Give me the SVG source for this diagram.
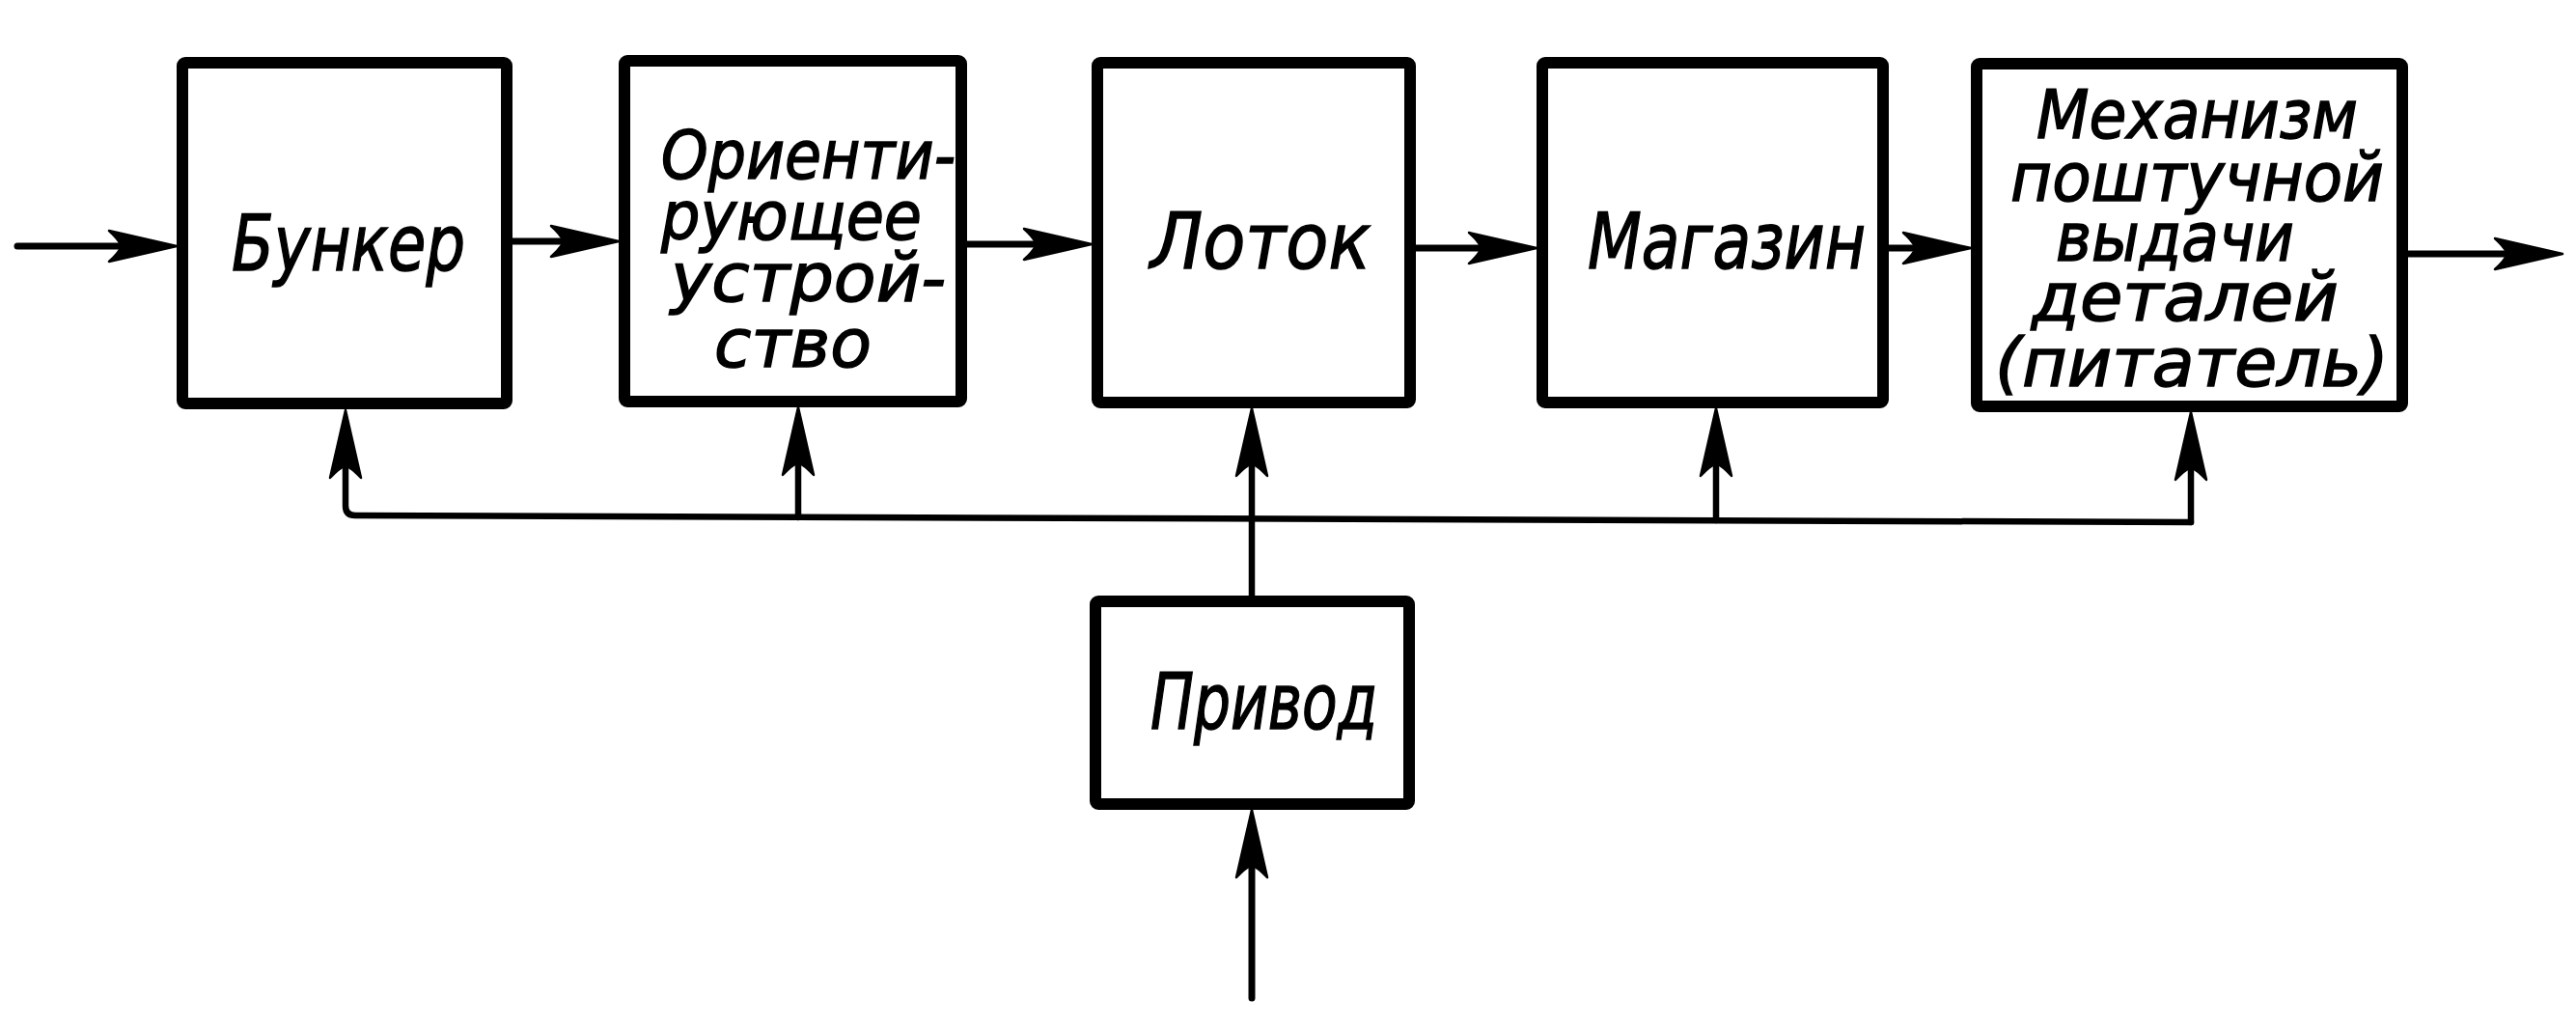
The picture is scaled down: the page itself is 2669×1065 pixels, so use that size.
<svg xmlns="http://www.w3.org/2000/svg" width="2669" height="1065" viewBox="0 0 2669 1065">
<style>
.box{fill:#fff;stroke:#000;stroke-width:12;stroke-linejoin:round}
.ln{fill:none;stroke:#000;stroke-width:7;stroke-linecap:round;stroke-linejoin:round}
.bus{fill:none;stroke:#000;stroke-width:6.5;stroke-linecap:round;stroke-linejoin:round}
.t{font-family:"DejaVu Sans","Liberation Sans",sans-serif;font-style:italic;fill:#000;stroke:#000;stroke-width:1.5}
.t1{font-size:80px}
.t2{font-size:70px}
</style>
<defs>
<marker id="ah" viewBox="-75 -20 80 40" refX="-55" refY="0" markerWidth="80" markerHeight="40" markerUnits="userSpaceOnUse" orient="auto">
<path d="M0,0 L-70,-16 Q-60,-7 -57,0 Q-60,7 -70,16 Z" fill="#000" stroke="#000" stroke-width="2.5" stroke-linejoin="round"/>
</marker>
</defs>
<g id="connectors">
<path class="ln" d="M18,255 L128,255" marker-end="url(#ah)"/>
<path class="ln" d="M531,250 L586,250" marker-end="url(#ah)"/>
<path class="ln" d="M1002,253 L1076,253" marker-end="url(#ah)"/>
<path class="ln" d="M1467,257 L1537,257" marker-end="url(#ah)"/>
<path class="ln" d="M1957,257 L1987,257" marker-end="url(#ah)"/>
<path class="ln" d="M2495,263 L2600,263" marker-end="url(#ah)"/>
<path class="bus" d="M2270,541 L368,534 Q358,534 358,524 L358,480" marker-end="url(#ah)"/>
<path class="bus" d="M827,536 L827,477" marker-end="url(#ah)"/>
<path class="bus" d="M1297,617 L1297,478" marker-end="url(#ah)"/>
<path class="bus" d="M1778,539 L1778,478" marker-end="url(#ah)"/>
<path class="bus" d="M2270,541 L2270,482" marker-end="url(#ah)"/>
<path class="ln" d="M1297,1034 L1297,894" marker-end="url(#ah)"/>
</g>
<g id="bunker">
<rect class="box" x="189" y="65" width="336" height="353" rx="3"/>
<text class="t t1" x="240" y="280" textLength="242" lengthAdjust="spacingAndGlyphs">Бункер</text>
</g>
<g id="orient">
<rect class="box" x="647" y="63" width="349" height="353" rx="3"/>
<text class="t t2" x="685" y="185" textLength="305" lengthAdjust="spacingAndGlyphs">Ориенти-</text>
<text class="t t2" x="685" y="248" textLength="270" lengthAdjust="spacingAndGlyphs">рующее</text>
<text class="t t2" x="695" y="312" textLength="285" lengthAdjust="spacingAndGlyphs">устрой-</text>
<text class="t t2" x="740" y="380" textLength="163" lengthAdjust="spacingAndGlyphs">ство</text>
</g>
<g id="lotok">
<rect class="box" x="1137" y="65" width="324" height="352" rx="3"/>
<text class="t t1" x="1192" y="278" textLength="228" lengthAdjust="spacingAndGlyphs">Лоток</text>
</g>
<g id="magazin">
<rect class="box" x="1598" y="65" width="353" height="352" rx="3"/>
<text class="t t1" x="1645" y="278" textLength="288" lengthAdjust="spacingAndGlyphs">Магазин</text>
</g>
<g id="mechanism">
<rect class="box" x="2048" y="66" width="441" height="355" rx="3"/>
<text class="t t2" x="2110" y="143" textLength="333" lengthAdjust="spacingAndGlyphs">Механизм</text>
<text class="t t2" x="2083" y="208" textLength="387" lengthAdjust="spacingAndGlyphs">поштучной</text>
<text class="t t2" x="2130" y="270" textLength="247" lengthAdjust="spacingAndGlyphs">выдачи</text>
<text class="t t2" x="2105" y="332" textLength="318" lengthAdjust="spacingAndGlyphs">деталей</text>
<text class="t t2" x="2067" y="400" textLength="408" lengthAdjust="spacingAndGlyphs">(питатель)</text>
</g>
<g id="privod">
<rect class="box" x="1135" y="623" width="325" height="210" rx="3"/>
<text class="t t1" x="1192" y="755" textLength="235" lengthAdjust="spacingAndGlyphs">Привод</text>
</g>
</svg>
